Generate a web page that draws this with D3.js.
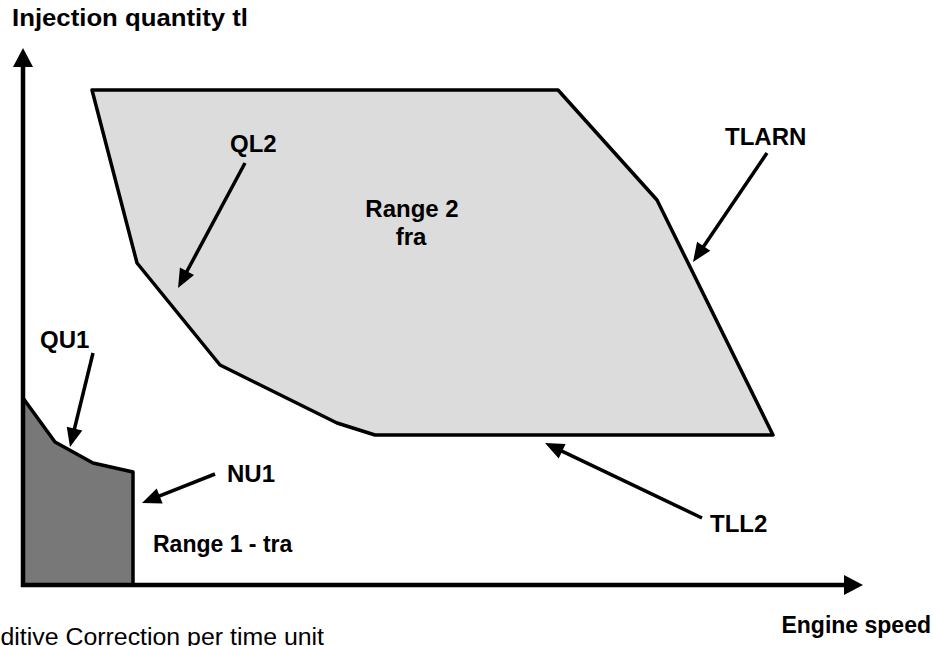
<!DOCTYPE html>
<html>
<head>
<meta charset="utf-8">
<script src="https://cdn.jsdelivr.net/npm/d3@7"></script>
<style>
html,body{margin:0;padding:0;background:#fff;overflow:hidden;}
svg{display:block;}
text{font-family:"Liberation Sans",Arial,sans-serif;fill:#000;}
</style>
</head>
<body>
<svg id="chart" width="933" height="646"></svg>
<script>
// ---- data (engine speed units, injection quantity units) ----
const range2Speed = [69, 535, 634, 750, 352, 314, 197, 114];
const range2Quantity = [495, 495, 385, 150, 150, 162, 220, 322];
const range1Speed = [0, 32, 70, 110, 110, 0];
const range1Quantity = [187, 143, 122, 113, 0, 0];

const labelNames = ["QL2", "TLARN", "TLL2", "QU1", "NU1"];
const labelSpeed = [207, 702, 687, 17, 204];
const labelQuantity = [433, 440, 53, 237, 103];
const arrowFromSpeed = [222, 744, 679, 70, 192];
const arrowFromQuantity = [422, 432, 67, 232, 111];
const arrowToSpeed = [155, 670, 522, 47, 119];
const arrowToQuantity = [297, 323, 142, 138, 82];

const regionTexts = ["Range 2", "fra", "Range 1 - tra"];
const axisTitles = ["Injection quantity tl", "Engine speed", "Additive Correction per time unit"];

// ---- scales ----
const svg = d3.select("#chart");
const x = d3.scaleLinear().domain([0, 840]).range([23, 863]);
const y = d3.scaleLinear().domain([0, 537]).range([585, 48]);

// Range 2 polygon
const poly2 = range2Speed.map((s, i) => [x(s), y(range2Quantity[i])]);
svg.append("path")
  .attr("d", d3.line()(poly2) + "Z")
  .attr("fill", "#dcdcdc")
  .attr("stroke", "#000")
  .attr("stroke-width", 3.5)
  .attr("stroke-linejoin", "round");

// Range 1 polygon
const poly1 = range1Speed.map((s, i) => [x(s), y(range1Quantity[i])]);
svg.append("path")
  .attr("d", d3.line()(poly1) + "Z")
  .attr("fill", "#787878")
  .attr("stroke", "#000")
  .attr("stroke-width", 3.5)
  .attr("stroke-linejoin", "round");

// arrow helper
function arrow(x1, y1, x2, y2, len, half, sw) {
  const dx = x2 - x1, dy = y2 - y1;
  const L = Math.hypot(dx, dy);
  const ux = dx / L, uy = dy / L;
  const bx = x2 - ux * len, by = y2 - uy * len;
  svg.append("line")
    .attr("x1", x1).attr("y1", y1)
    .attr("x2", bx + ux * 2).attr("y2", by + uy * 2)
    .attr("stroke", "#000").attr("stroke-width", sw);
  const px = -uy, py = ux;
  svg.append("path")
    .attr("d", d3.line()([[x2, y2], [bx + px * half, by + py * half], [bx - px * half, by - py * half]]) + "Z")
    .attr("fill", "#000");
}

// axes
arrow(x(0), y(0) + 2, x(0), y(537), 19, 10, 4.5);
arrow(x(0) - 2, y(0), x(840), y(0), 19, 10, 4.5);

// annotation arrows and labels
labelNames.forEach((name, i) => {
  arrow(x(arrowFromSpeed[i]), y(arrowFromQuantity[i]), x(arrowToSpeed[i]), y(arrowToQuantity[i]), 19, 8, 3.5);
  svg.append("text")
    .attr("x", x(labelSpeed[i])).attr("y", y(labelQuantity[i]))
    .attr("font-size", 24).attr("font-weight", "bold")
    .text(name);
});

// region texts
svg.append("text").attr("x", x(389)).attr("y", y(368))
  .attr("text-anchor", "middle").attr("font-size", 24).attr("font-weight", "bold")
  .text(regionTexts[0]);
svg.append("text").attr("x", x(388)).attr("y", y(340))
  .attr("text-anchor", "middle").attr("font-size", 24).attr("font-weight", "bold")
  .text(regionTexts[1]);
svg.append("text").attr("x", x(130)).attr("y", y(33))
  .attr("font-size", 23).attr("font-weight", "bold")
  .text(regionTexts[2]);

// axis titles
svg.append("text").attr("x", 12).attr("y", 26)
  .attr("font-size", 23).attr("font-weight", "bold")
  .attr("textLength", 236).attr("lengthAdjust", "spacingAndGlyphs")
  .text(axisTitles[0]);
svg.append("text").attr("x", 931).attr("y", 633)
  .attr("text-anchor", "end").attr("font-size", 23).attr("font-weight", "bold")
  .text(axisTitles[1]);
svg.append("text").attr("x", -30).attr("y", 645)
  .attr("font-size", 23)
  .attr("textLength", 354).attr("lengthAdjust", "spacingAndGlyphs")
  .text(axisTitles[2]);
</script>
</body>
</html>
